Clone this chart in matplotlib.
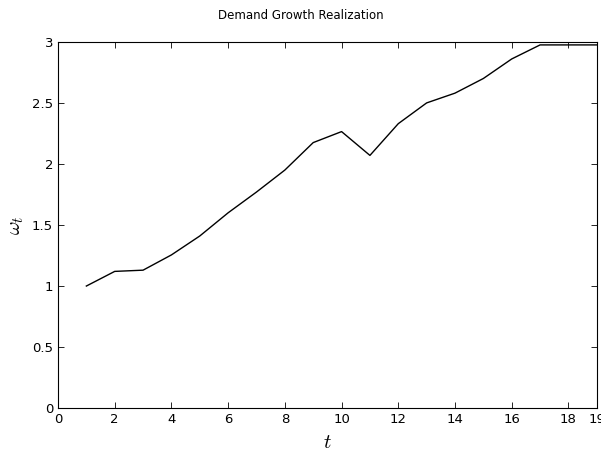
import matplotlib
matplotlib.use("Agg")
import matplotlib.pyplot as plt

t = list(range(1, 20))
omega = [1.00, 1.12, 1.13, 1.255, 1.41, 1.60, 1.77, 1.95, 2.175, 2.265,
         2.07, 2.33, 2.50, 2.58, 2.70, 2.86, 2.975, 2.975, 2.975]

plt.rcParams["mathtext.fontset"] = "cm"

fig = plt.figure(figsize=(6.01, 4.55), dpi=100)
ax = fig.add_axes([0.0965, 0.103, 0.8965, 0.805])
ax.plot(t, omega, color="black", linewidth=1.0)
ax.set_xlim(0, 19)
ax.set_ylim(0, 3)
ax.set_xticks([0, 2, 4, 6, 8, 10, 12, 14, 16, 18, 19])
ax.set_xticklabels(["0", "2", "4", "6", "8", "10", "12", "14", "16", "18", "19"])
ax.set_yticks([0, 0.5, 1, 1.5, 2, 2.5, 3])
ax.set_yticklabels(["0", "0.5", "1", "1.5", "2", "2.5", "3"])
ax.tick_params(direction="in", top=True, right=True, labelsize=9.5, length=4, width=0.6)
for s in ax.spines.values():
    s.set_linewidth(0.8)
ax.set_xlabel("$t$", fontsize=15)
ax.set_ylabel(r"$\omega_t$", fontsize=15)
fig.text(0.5, 0.965, "Demand Growth Realization", ha="center", va="center", fontsize=8.5)
fig.savefig("out.png", dpi=100)
plt.close(fig)
